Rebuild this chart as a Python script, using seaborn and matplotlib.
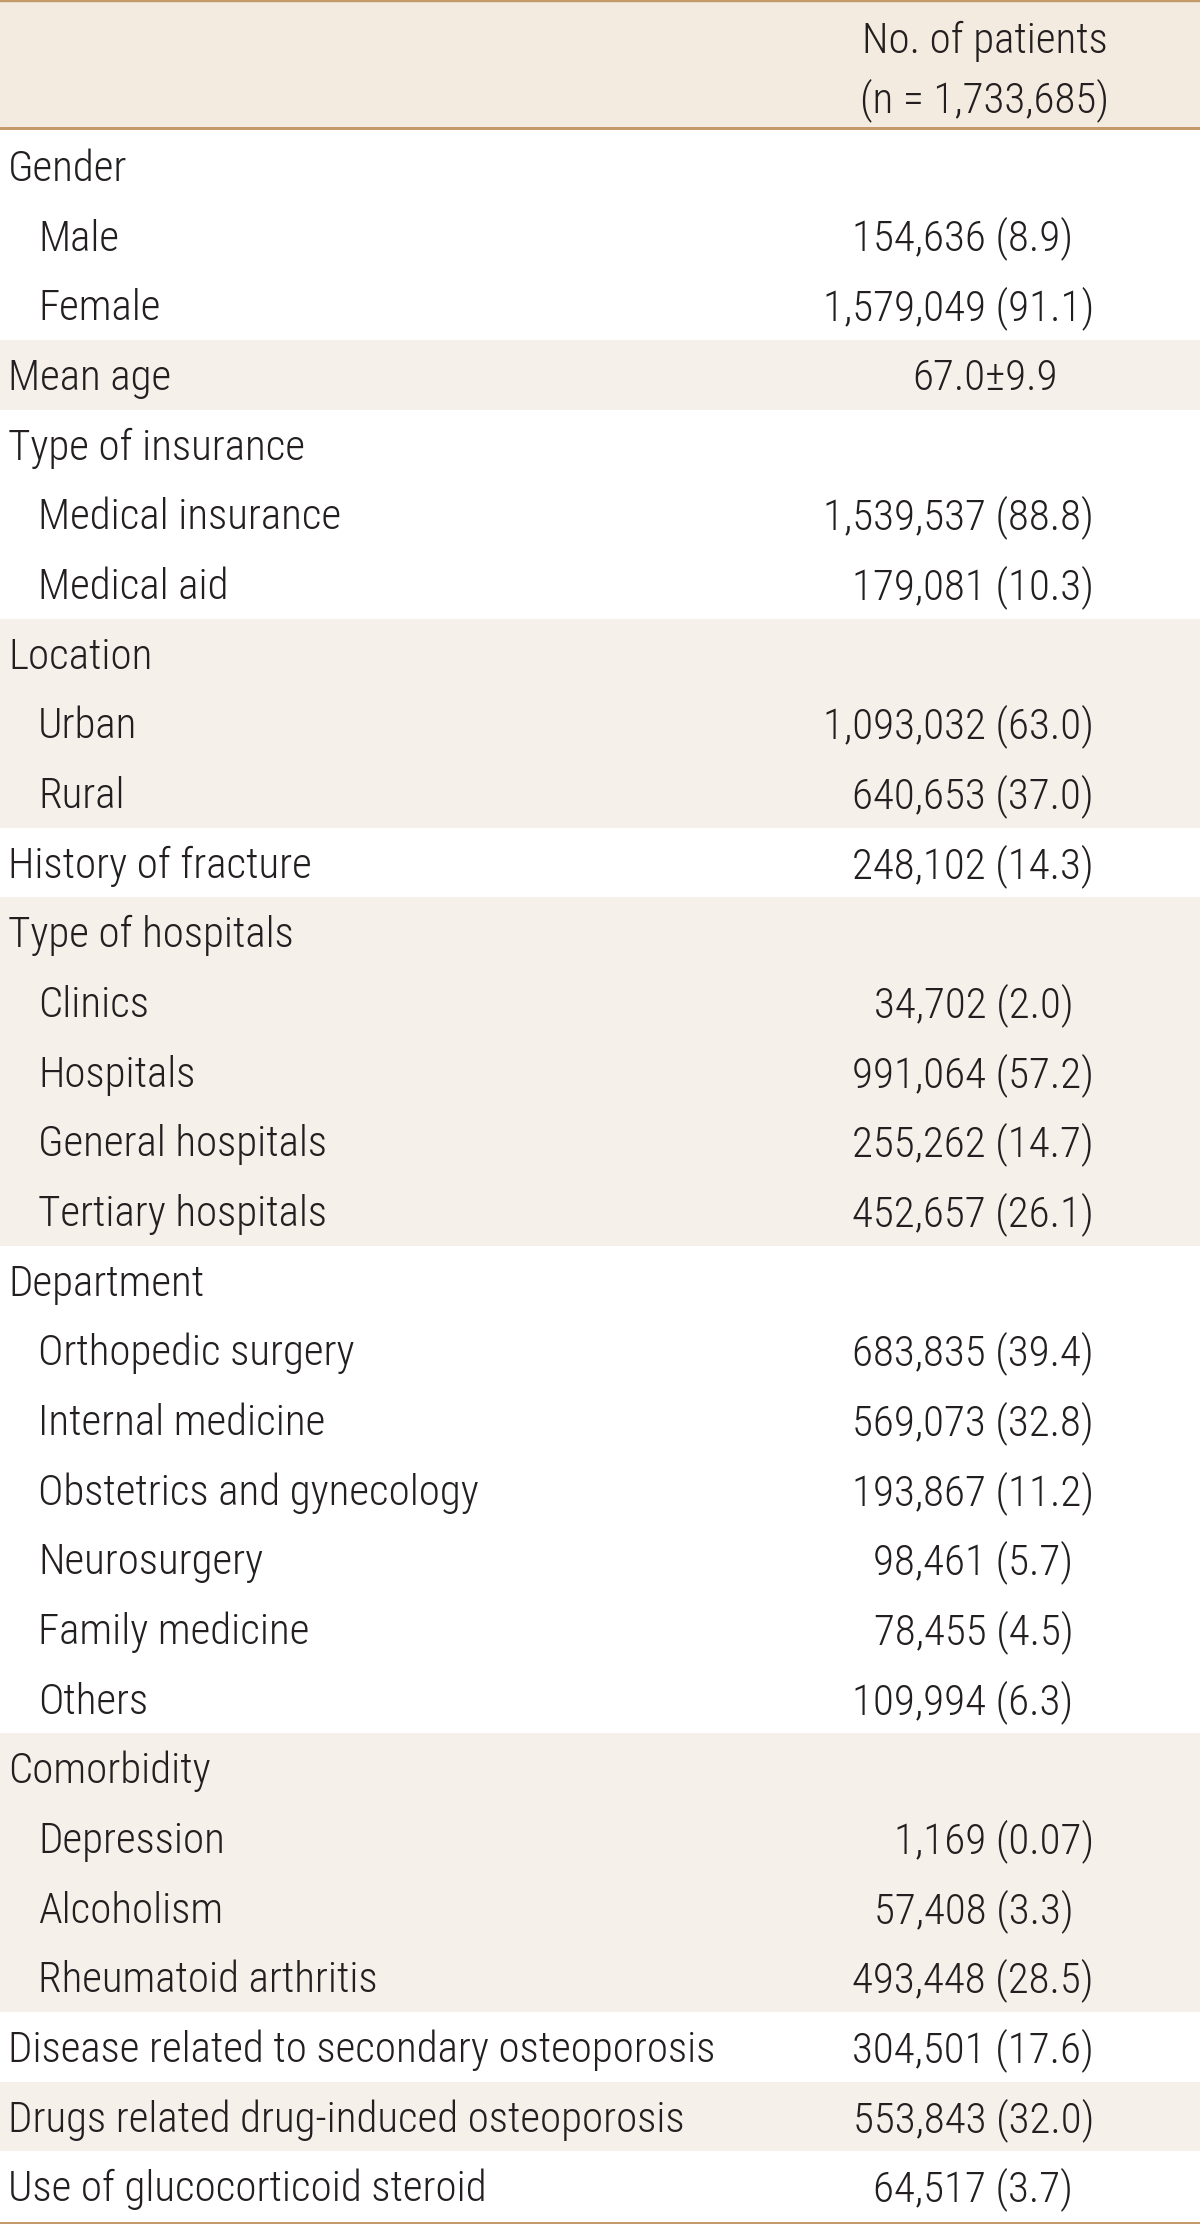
import numpy as np
import pandas as pd
import matplotlib
matplotlib.use("Agg")
import matplotlib.pyplot as plt
import seaborn as sns

header_1 = "No. of patients"
header_2 = "(n = 1,733,685)"

labels = ["Gender", "Male", "Female", "Mean age", "Type of insurance",
          "Medical insurance", "Medical aid", "Location", "Urban", "Rural",
          "History of fracture", "Type of hospitals", "Clinics", "Hospitals",
          "General hospitals", "Tertiary hospitals", "Department",
          "Orthopedic surgery", "Internal medicine", "Obstetrics and gynecology",
          "Neurosurgery", "Family medicine", "Others", "Comorbidity",
          "Depression", "Alcoholism", "Rheumatoid arthritis",
          "Disease related to secondary osteoporosis",
          "Drugs related drug-induced osteoporosis",
          "Use of glucocorticoid steroid"]
values = ["", "154,636 (8.9)", "1,579,049 (91.1)", "67.0\u00b19.9", "",
          "1,539,537 (88.8)", "179,081 (10.3)", "", "1,093,032 (63.0)",
          "640,653 (37.0)", "248,102 (14.3)", "", "34,702 (2.0)",
          "991,064 (57.2)", "255,262 (14.7)", "452,657 (26.1)", "",
          "683,835 (39.4)", "569,073 (32.8)", "193,867 (11.2)", "98,461 (5.7)",
          "78,455 (4.5)", "109,994 (6.3)", "", "1,169 (0.07)", "57,408 (3.3)",
          "493,448 (28.5)", "304,501 (17.6)", "553,843 (32.0)", "64,517 (3.7)"]
level = [0, 1, 1, 0, 0, 1, 1, 0, 1, 1, 0, 0, 1, 1, 1, 1, 0,
         1, 1, 1, 1, 1, 1, 0, 1, 1, 1, 0, 0, 0]

df = pd.DataFrame({"label": labels, "value": values, "level": level})
df["row"] = np.arange(len(df))
df["section"] = (df["level"] == 0).cumsum() - 1
df["shaded"] = df["section"] % 2 == 1

sns.set_theme(style="white")
plt.rcParams["font.family"] = ["Roboto Condensed", "DejaVu Sans"]
plt.rcParams["font.weight"] = 300

W, H = 1200, 2224
row_h = 69.67
head_h = 131 / row_h
text_c = "#231f20"
line_c = "#c49a6a"

fig = plt.figure(figsize=(W / 100, H / 100), dpi=100)
ax = fig.add_axes([0, 0, 1, 1])
ax.set_xlim(0, W)
ax.set_ylim((H - 131) / row_h, -head_h)
ax.axis("off")

# header band + shaded sections
ax.axhspan(-head_h, -0.036, color="#f3ebdf", lw=0, zorder=0)
sh = df[df["shaded"]]
ax.barh(sh["row"] + 0.5, W, height=1.0, left=0, color="#f5f0ea", lw=0, zorder=0)

lw = 3 * 72 / 100
ax.axhline(-head_h + 1 / row_h, color=line_c, lw=lw * 0.8)
ax.axhline(-0.036, color=line_c, lw=lw)
ax.axhline(len(df) + 1.5 / row_h, color=line_c, lw=lw)

fs = 31
ax.text(985, (53 - 131) / row_h, header_1, ha="center", va="baseline",
        fontsize=fs, color=text_c)
ax.text(985, (112 - 131) / row_h, header_2, ha="center", va="baseline",
        fontsize=fs, color=text_c)

# width of one digit, for lining up the percentages on the decimal point
rend = fig.canvas.get_renderer()
tmp = ax.text(0, 0, "0000000000", fontsize=fs)
dw = tmp.get_window_extent(rend).width / 10
tmp.remove()

base = 50 / row_h
for _, r in df.iterrows():
    x = 8 if r["level"] == 0 else 38
    ax.text(x, r["row"] + base, r["label"], ha="left", va="baseline",
            fontsize=fs, color=text_c)
    v = r["value"]
    if not v:
        continue
    if "(" in v:
        pct = v[v.index("(") + 1:-1]
        n_int, n_dec = [len(p) for p in pct.split(".")]
        shift = dw * ((2 - n_int) - (n_dec - 1))
        ax.text(1094 - shift, r["row"] + base, v, ha="right", va="baseline",
                fontsize=fs, color=text_c)
    else:
        ax.text(985, r["row"] + base, v, ha="center", va="baseline",
                fontsize=fs, color=text_c)

fig.savefig("out.png", dpi=100)
